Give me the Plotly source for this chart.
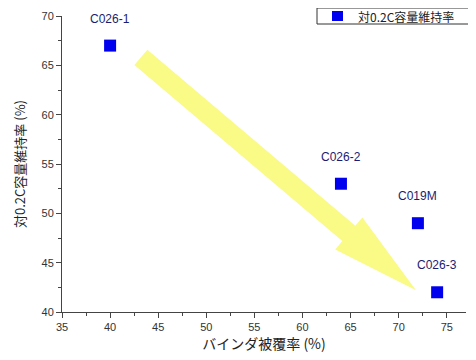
import plotly.graph_objects as go
import math

# Data
sample_names = ["C026-1", "C026-2", "C019M", "C026-3"]
coverage_pct = [40, 64, 72, 74]          # バインダ被覆率 (%)
retention_pct = [67, 53, 49, 42]          # 対0.2C容量維持率 (%)
series_name = "対0.2C容量維持率"
x_title = "バインダ被覆率 (%)"
y_title = "対0.2C容量維持率 (%)"

# Trend arrow (data coordinates)
arrow_tail = (43.2, 65.8)
arrow_tip = (71.8, 42.2)

# Layout geometry (page body adds ~8px offset)
OFF = 8
W, H = 476, 360
ML, MR, MT, MB = 62 - OFF, 18, 16 - OFF, 56
x_range = [35, 77]
y_range = [40, 70]
pw = W - ML - MR
ph = H - MT - MB
marker_color = "#0000ee"

def to_px(x, y):
    px = (x - x_range[0]) / (x_range[1] - x_range[0]) * pw
    py = (y - y_range[0]) / (y_range[1] - y_range[0]) * ph
    return px, py

def to_data(px, py):
    x = x_range[0] + px / pw * (x_range[1] - x_range[0])
    y = y_range[0] + py / ph * (y_range[1] - y_range[0])
    return x, y

# build arrow polygon in pixel space then convert
tx, ty = to_px(*arrow_tail)
hx, hy = to_px(*arrow_tip)
dx, dy = hx - tx, hy - ty
L = math.hypot(dx, dy)
ux, uy = dx / L, dy / L
nx, ny = -uy, ux
shaft_w = 20
head_w = 42
head_len = 88
bx, by = hx - ux * head_len, hy - uy * head_len
pts_px = [
    (tx + nx * shaft_w / 2, ty + ny * shaft_w / 2),
    (bx + nx * shaft_w / 2, by + ny * shaft_w / 2),
    (bx + nx * head_w / 2, by + ny * head_w / 2),
    (hx, hy),
    (bx - nx * head_w / 2, by - ny * head_w / 2),
    (bx - nx * shaft_w / 2, by - ny * shaft_w / 2),
    (tx - nx * shaft_w / 2, ty - ny * shaft_w / 2),
]
pts = [to_data(*p) for p in pts_px]
path = "M " + " L ".join(f"{x:.4f},{y:.4f}" for x, y in pts) + " Z"

fig = go.Figure()
fig.add_shape(type="path", path=path, xref="x", yref="y",
              fillcolor="rgb(250,250,135)", line=dict(width=0), layer="below")

fig.add_trace(go.Scatter(
    x=coverage_pct, y=retention_pct, mode="markers", name=series_name,
    marker=dict(symbol="square", size=12, color=marker_color),
    showlegend=False, cliponaxis=False,
))

for name, x, y in zip(sample_names, coverage_pct, retention_pct):
    fig.add_annotation(x=x, y=y, text=name, showarrow=False, yshift=27,
                       font=dict(family="Liberation Sans, Arial", size=12, color="#1c1c70"))

# legend box (manual, extends past right edge like reference)
def px_to_paper_x(px_page):
    return (px_page - OFF - ML) / pw

def py_to_paper_y(py_page):
    return 1 - (py_page - OFF - MT) / ph

fig.add_shape(type="rect", xref="paper", yref="paper",
              x0=px_to_paper_x(317), x1=px_to_paper_x(490),
              y0=py_to_paper_y(24), y1=py_to_paper_y(8),
              line=dict(color="#333", width=1), fillcolor="white")
fig.add_shape(type="rect", xref="paper", yref="paper",
              x0=px_to_paper_x(332), x1=px_to_paper_x(343),
              y0=py_to_paper_y(21), y1=py_to_paper_y(11),
              line=dict(width=0), fillcolor=marker_color)
fig.add_annotation(
    xref="paper", yref="paper",
    x=px_to_paper_x(356), y=py_to_paper_y(16), xanchor="left", yanchor="middle",
    text=series_name, showarrow=False, align="left",
    font=dict(family="Noto Sans CJK JP", size=12, color="#222"),
)

tick_font = dict(family="Liberation Sans Narrow, Liberation Sans, Arial", size=11, color="#333333")
fig.update_xaxes(range=x_range, tickmode="linear", tick0=35, dtick=5,
                 ticks="outside", ticklen=5, tickcolor="#444", showline=True,
                 linecolor="#444", linewidth=1, showgrid=False, zeroline=False,
                 tickfont=tick_font, automargin=False,
                 minor=dict(dtick=2.5, ticks="outside", ticklen=3, tickcolor="#444"),
                 title=dict(text=x_title, font=dict(family="Noto Sans CJK JP", size=14, color="#222"), standoff=6))
fig.update_yaxes(range=y_range, tickmode="linear", tick0=40, dtick=5,
                 ticks="outside", ticklen=5, tickcolor="#444", showline=True,
                 linecolor="#444", linewidth=1, showgrid=False, zeroline=False,
                 tickfont=tick_font, automargin=False,
                 minor=dict(dtick=2.5, ticks="outside", ticklen=3, tickcolor="#444"),
                 title=dict(text=y_title, font=dict(family="Noto Sans CJK JP", size=13, color="#222"), standoff=12))

fig.update_layout(
    width=W, height=H,
    margin=dict(l=ML, r=MR, t=MT, b=MB, autoexpand=False),
    plot_bgcolor="white", paper_bgcolor="white",
    showlegend=False,
)

fig.write_html("out.html")
